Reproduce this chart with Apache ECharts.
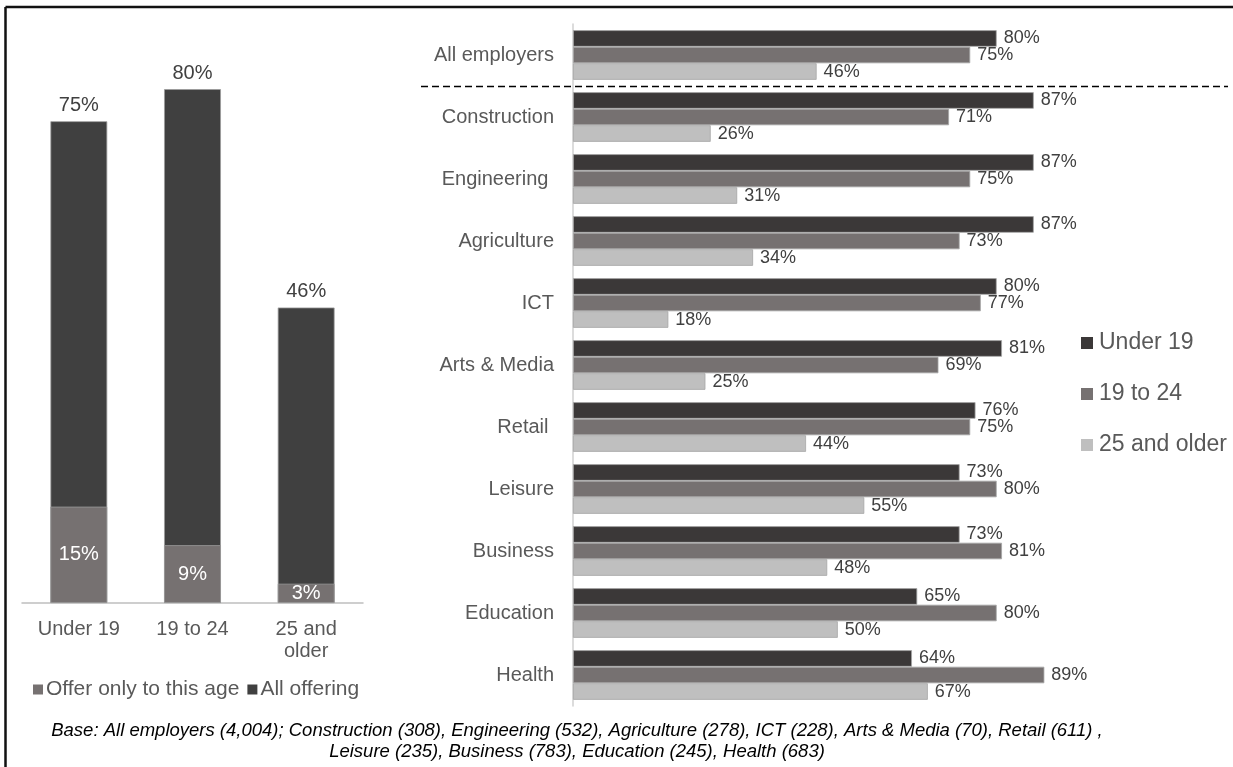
<!DOCTYPE html>
<html>
<head>
<meta charset="utf-8">
<title>Employers offering apprenticeships by age group</title>
<script src="https://cdn.jsdelivr.net/npm/echarts@6/dist/echarts.min.js"></script>
<style>
  html, body { margin: 0; padding: 0; background: #ffffff; }
  #chart { width: 1233px; height: 767px; }
</style>
</head>
<body>
<div id="chart"></div>
<script>
// Left panel: share of all employers offering, by apprentice age
const ageGroups = ['Under 19', '19 to 24', '25 and\nolder'];
const allOffering = [75, 80, 46];
const offerOnly = [15, 9, 3];

// Right panel: share offering each age group, by sector
const sectors = ['All employers', 'Construction', 'Engineering ', 'Agriculture', 'ICT',
  'Arts & Media', 'Retail ', 'Leisure', 'Business', 'Education', 'Health'];
const under19 = [80, 87, 87, 87, 80, 81, 76, 73, 73, 65, 64];
const age19to24 = [75, 71, 75, 73, 77, 69, 75, 80, 81, 80, 89];
const age25plus = [46, 26, 31, 34, 18, 25, 44, 55, 48, 50, 67];

const baseNote = 'Base: All employers (4,004); Construction (308), Engineering (532), Agriculture (278), ICT (228), Arts & Media (70), Retail (611) ,\nLeisure (235), Business (783), Education (245), Health (683)';

const FONT = '"Liberation Sans", Arial, sans-serif';
const DARK = '#3b3838', DARK_L = '#404040', MID = '#767171', LIGHT = '#bfbfbf';
const EDGE = '#a6a6a6';

const chart = echarts.init(document.getElementById('chart'), null, { renderer: 'canvas' });

const pct = p => p.value + '%';

const rightLabel = {
  show: true, position: 'right', distance: 7, formatter: pct,
  fontSize: 18, color: '#404040', fontFamily: FONT
};

chart.setOption({
  animation: false,
  textStyle: { fontFamily: FONT },
  grid: [
    { left: 22, right: 870, top: 57, bottom: 164 },
    { left: 573, right: 130.4, top: 24, bottom: 61 }
  ],
  xAxis: [
    {
      gridIndex: 0, type: 'category', data: ageGroups,
      axisLine: { lineStyle: { color: '#bfbfbf', width: 1.5 } },
      axisTick: { show: false },
      axisLabel: { fontSize: 20, color: '#595959', lineHeight: 22, margin: 15, interval: 0 }
    },
    { gridIndex: 1, type: 'value', min: 0, max: 100, show: false }
  ],
  yAxis: [
    { gridIndex: 0, type: 'value', min: 0, max: 85, show: false },
    {
      gridIndex: 1, type: 'category', data: sectors, inverse: true,
      axisLine: { lineStyle: { color: '#d0d0d0', width: 1.5 } },
      axisTick: { show: false },
      axisLabel: { fontSize: 20, color: '#595959', margin: 19, interval: 0 }
    }
  ],
  legend: [
    {
      data: ['Offer only to this age', 'All offering'],
      left: 33, top: 679, padding: 0, icon: 'rect', itemWidth: 10, itemHeight: 10, itemGap: 8,
      itemStyle: { borderWidth: 0 },
      textStyle: { fontSize: 21, color: '#595959', padding: [0, 0, 0, -2] }
    },
    {
      data: ['Under 19', '19 to 24', '25 and older'],
      orient: 'vertical', left: 1081, top: 330, padding: 0, icon: 'rect',
      itemWidth: 12, itemHeight: 12, itemGap: 25,
      itemStyle: { borderWidth: 0 },
      textStyle: { fontSize: 23, color: '#595959', lineHeight: 26, padding: [0, 0, 0, 1] }
    }
  ],
  series: [
    {
      name: 'All offering', type: 'bar', xAxisIndex: 0, yAxisIndex: 0,
      data: allOffering, barWidth: '50%',
      itemStyle: { color: DARK_L, borderColor: '#9a9a9a', borderWidth: 0.8 },
      label: { show: true, position: 'top', distance: 6, formatter: pct, fontSize: 20, color: '#404040' }
    },
    {
      name: 'Offer only to this age', type: 'bar', xAxisIndex: 0, yAxisIndex: 0,
      data: offerOnly, barWidth: '50%', barGap: '-100%',
      itemStyle: { color: MID, borderColor: '#9a9a9a', borderWidth: 0.8 },
      label: { show: true, position: 'inside', formatter: pct, fontSize: 20, color: '#ffffff' }
    },
    {
      name: 'Under 19', type: 'bar', xAxisIndex: 1, yAxisIndex: 1,
      data: under19, barCategoryGap: '20%', barGap: '0%',
      itemStyle: { color: DARK, borderColor: EDGE, borderWidth: 0.8 },
      label: rightLabel
    },
    {
      name: '19 to 24', type: 'bar', xAxisIndex: 1, yAxisIndex: 1,
      data: age19to24, barCategoryGap: '20%', barGap: '0%',
      itemStyle: { color: MID, borderColor: EDGE, borderWidth: 0.8 },
      label: rightLabel
    },
    {
      name: '25 and older', type: 'bar', xAxisIndex: 1, yAxisIndex: 1,
      data: age25plus, barCategoryGap: '20%', barGap: '0%',
      itemStyle: { color: LIGHT, borderColor: EDGE, borderWidth: 0.8 },
      label: rightLabel
    }
  ]
});

// Separator between the "All employers" row and the sector rows,
// placed half-way between the first two category positions.
const y0 = chart.convertToPixel({ yAxisIndex: 1 }, 0);
const y1 = chart.convertToPixel({ yAxisIndex: 1 }, 1);
const sepY = Math.round((y0 + y1) / 2) + 0.5;

chart.setOption({
  graphic: [
    { type: 'line', shape: { x1: 5.5, y1: 7, x2: 1233, y2: 7 },
      style: { stroke: '#111111', lineWidth: 2.5 } },
    { type: 'line', shape: { x1: 5.5, y1: 7, x2: 5.5, y2: 767 },
      style: { stroke: '#111111', lineWidth: 2.5 } },
    { type: 'line', shape: { x1: 421, y1: sepY, x2: 1228, y2: sepY },
      style: { stroke: '#000000', lineWidth: 1.5, lineDash: [7, 4] } },
    { type: 'text', x: 577, y: 720,
      style: { text: baseNote, font: 'italic 18.5px ' + FONT, fill: '#000000',
        textAlign: 'center', textVerticalAlign: 'top', lineHeight: 21 } }
  ]
});
</script>
</body>
</html>
